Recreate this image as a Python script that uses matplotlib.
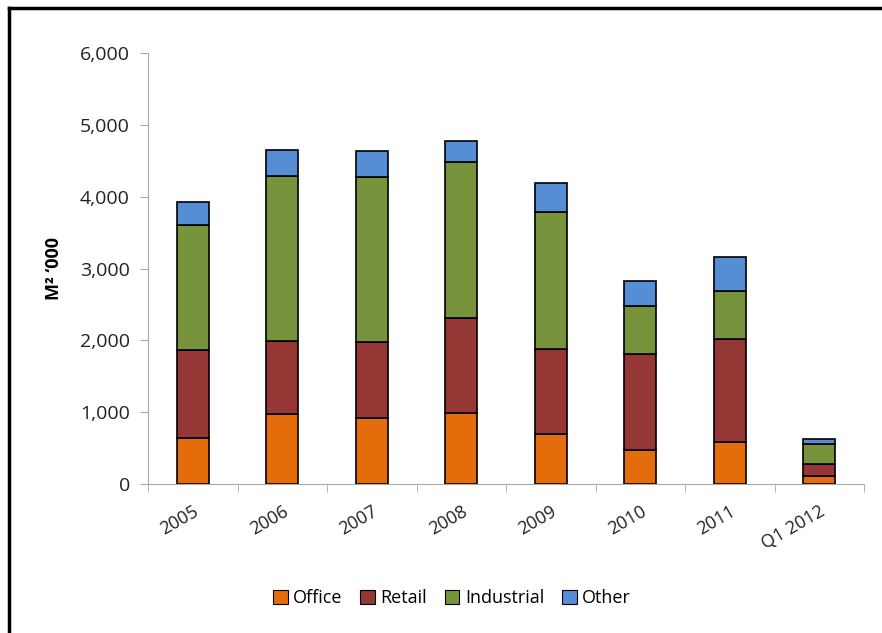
import matplotlib.pyplot as plt
from matplotlib.ticker import FuncFormatter, FixedLocator
from matplotlib.lines import Line2D
from matplotlib.patches import Patch

# data (M2 '000)
years = ["2005", "2006", "2007", "2008", "2009", "2010", "2011", "Q1 2012"]
office = [640, 975, 920, 990, 695, 475, 585, 110]
retail = [1225, 1015, 1060, 1320, 1185, 1335, 1435, 170]
industrial = [1740, 2300, 2295, 2175, 1910, 670, 670, 280]
other = [320, 360, 360, 290, 405, 345, 475, 70]

series = [("Office", office, "#e46c0a"),
          ("Retail", retail, "#953735"),
          ("Industrial", industrial, "#77933c"),
          ("Other", other, "#558ed5")]

plt.rcParams['font.family'] = ['Open Sans', 'DejaVu Sans']

fig = plt.figure(figsize=(8.82, 6.33), dpi=100)
ax = fig.add_axes([148/882, 1-484/633, (864-148)/882, (484-53)/633])

x = range(len(years))
bottom = [0]*len(years)
for name, vals, col in series:
    ax.bar(x, vals, 0.36, bottom=bottom, color=col, edgecolor="black", linewidth=1.2, label=name)
    bottom = [b + v for b, v in zip(bottom, vals)]

ax.set_xlim(-0.5, len(years)-0.5)
ax.set_ylim(0, 6000)
ax.set_yticks(range(0, 6001, 1000))
ax.yaxis.set_major_formatter(FuncFormatter(lambda v, p: f"{int(v):,}"))
ax.set_xticks(list(x))
ax.set_xticklabels(years, fontsize=13, color="#222222")
for lab in ax.get_xticklabels():
    lab.set_rotation(30)
    lab.set_ha("right")
    lab.set_va("top")
    lab.set_rotation_mode("anchor")
ax.tick_params(axis="x", length=0, pad=13)
ax.xaxis.set_minor_locator(FixedLocator([i - 0.5 for i in range(len(years)+1)]))
ax.tick_params(axis="x", which="minor", length=6, color="#aaaaaa", direction="out")
ax.tick_params(axis="y", length=6, color="#aaaaaa", labelsize=14, labelcolor="#222222", pad=7)
for s in ["top", "right"]:
    ax.spines[s].set_visible(False)
for s in ["left", "bottom"]:
    ax.spines[s].set_color("#aaaaaa")
ax.set_ylabel("M\u00b2 \u2018000", fontsize=13, fontweight="bold", labelpad=12)

handles = [Patch(facecolor=c, edgecolor="black", linewidth=0.8) for _, _, c in series]
fig.legend(handles, [s[0] for s in series], loc="center", bbox_to_anchor=(452/882, 1-598/633),
           ncol=4, frameon=False, fontsize=13, handlelength=0.8, handleheight=0.8,
           handletextpad=0.3, columnspacing=1.0)

# frame at top/left of the image
fig.add_artist(Line2D([9/882, 9/882], [0, 1-8/633], color="black", linewidth=2.5))
fig.add_artist(Line2D([9/882, 1], [1-8/633, 1-8/633], color="black", linewidth=2.5))

fig.savefig("out.png", dpi=100)
